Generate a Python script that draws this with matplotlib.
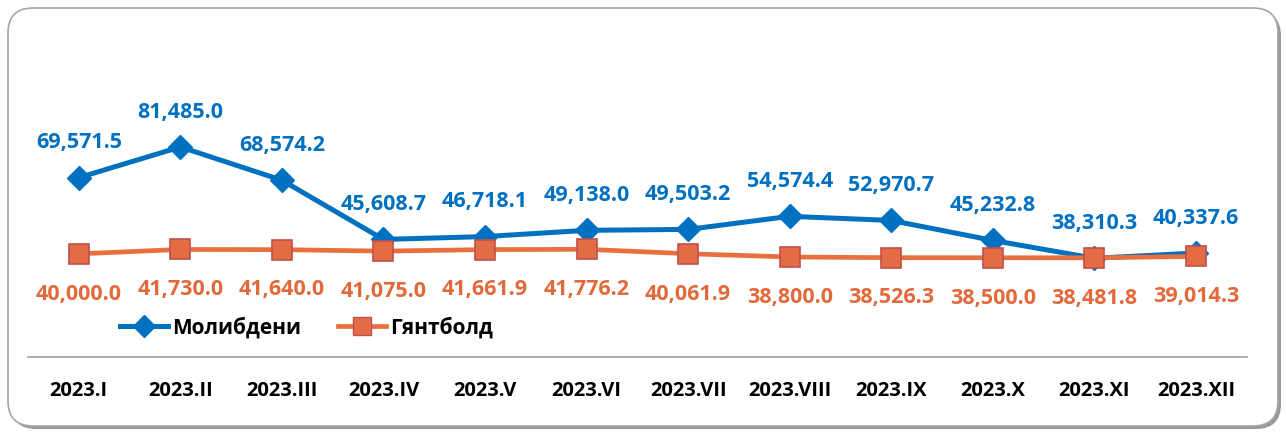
import matplotlib
matplotlib.use("Agg")
import matplotlib.pyplot as plt
from matplotlib.patches import FancyBboxPatch
from matplotlib.lines import Line2D

# data
months = ["2023.I", "2023.II", "2023.III", "2023.IV", "2023.V", "2023.VI",
          "2023.VII", "2023.VIII", "2023.IX", "2023.X", "2023.XI", "2023.XII"]
molybdenum = [69571.5, 81485.0, 68574.2, 45608.7, 46718.1, 49138.0,
              49503.2, 54574.4, 52970.7, 45232.8, 38310.3, 40337.6]
gantbold = [40000.0, 41730.0, 41640.0, 41075.0, 41661.9, 41776.2,
            40061.9, 38800.0, 38526.3, 38500.0, 38481.8, 39014.3]
names = ["Молибдени", "Гянтболд"]

blue = "#0070C0"
orange = "#E8703F"
orange_lbl = "#E2693A"
sq_edge = "#C0504D"

plt.rcParams['font.family'] = ['Open Sans', 'DejaVu Sans']

fig = plt.figure(figsize=(12.86, 4.34), dpi=100)

# rounded frame with shadow
shadow = FancyBboxPatch((0.11, 0.05), 12.70, 4.18, boxstyle="round,pad=0,rounding_size=0.25",
                        transform=fig.dpi_scale_trans, facecolor="#9A9A9A", edgecolor="none", zorder=0)
frame = FancyBboxPatch((0.08, 0.08), 12.70, 4.18, boxstyle="round,pad=0,rounding_size=0.25",
                       transform=fig.dpi_scale_trans, facecolor="white", edgecolor="#A6A6A6",
                       linewidth=1.2, zorder=0.5)
fig.patches.extend([shadow, frame])

ax = fig.add_axes([0.0218, 0.1774, 0.9476, 0.594])
ax.set_zorder(2)
ax.patch.set_alpha(0)
x = list(range(len(months)))

ax.plot(x, molybdenum, color=blue, lw=3.6, marker="D", markersize=12,
        markerfacecolor=blue, markeredgecolor=blue, zorder=3)
ax.plot(x, gantbold, color=orange, lw=3.4, marker="s", markersize=14,
        markerfacecolor="#E36C44", markeredgecolor=sq_edge, markeredgewidth=1.2, zorder=4)

for i in x:
    ax.annotate(f"{molybdenum[i]:,.1f}", (i, molybdenum[i]), xytext=(0, 25),
                textcoords="offset points", ha="center", va="center",
                color=blue, fontsize=15.5, fontweight="bold")
    ax.annotate(f"{gantbold[i]:,.1f}", (i, gantbold[i]), xytext=(0, -29),
                textcoords="offset points", ha="center", va="center",
                color=orange_lbl, fontsize=15.5, fontweight="bold")

ax.set_xlim(-0.5, len(months) - 0.5)
ax.set_ylim(0, 100000)
ax.set_xticks(x)
ax.set_xticklabels(months, fontsize=14.5, fontweight="bold")
ax.tick_params(axis="x", length=0, pad=17)
ax.set_yticks([])
for s in ["top", "right", "left"]:
    ax.spines[s].set_visible(False)
ax.spines["bottom"].set_color("#A0A0A0")
ax.spines["bottom"].set_linewidth(1.2)

handles = [Line2D([], [], color=blue, lw=3.6, marker="D", markersize=11),
           Line2D([], [], color=orange, lw=3.4, marker="s", markersize=13,
                  markerfacecolor="#E36C44", markeredgecolor=sq_edge)]
leg = ax.legend(handles, names, loc="center left", bbox_to_anchor=(0.06, 0.113),
                ncol=2, frameon=False, handlelength=2.3, handletextpad=0.2,
                columnspacing=1.8, prop={"size": 15, "weight": "bold"})

fig.savefig("out.png", dpi=100)
